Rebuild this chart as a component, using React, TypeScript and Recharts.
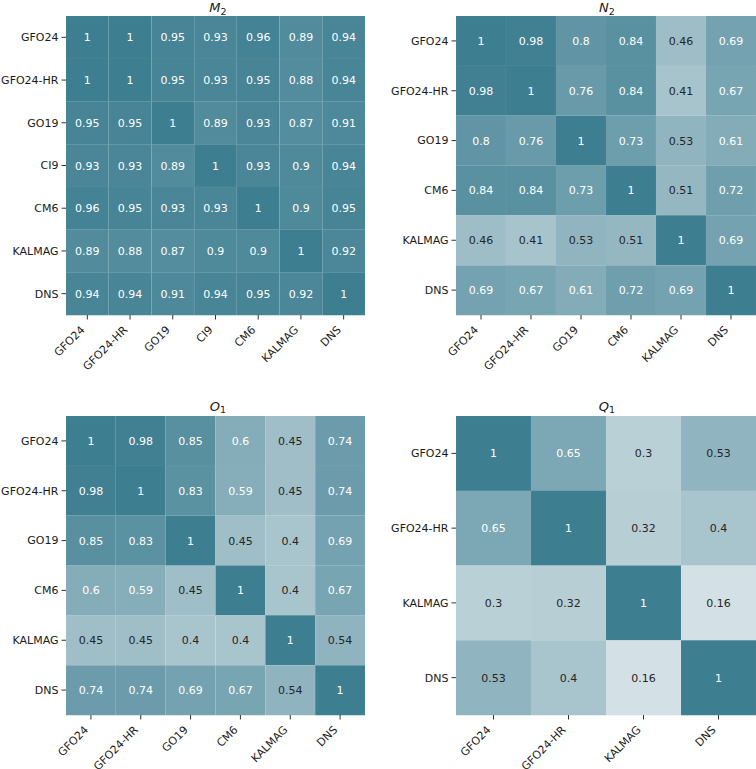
import React from 'react';
import { BarChart, Bar, XAxis, YAxis, Cell, LabelList } from 'recharts';

// ---------- data ----------
const m2Labels = ['GFO24', 'GFO24-HR', 'GO19', 'CI9', 'CM6', 'KALMAG', 'DNS'];
const m2Values = [
  [1, 1, 0.95, 0.93, 0.96, 0.89, 0.94],
  [1, 1, 0.95, 0.93, 0.95, 0.88, 0.94],
  [0.95, 0.95, 1, 0.89, 0.93, 0.87, 0.91],
  [0.93, 0.93, 0.89, 1, 0.93, 0.9, 0.94],
  [0.96, 0.95, 0.93, 0.93, 1, 0.9, 0.95],
  [0.89, 0.88, 0.87, 0.9, 0.9, 1, 0.92],
  [0.94, 0.94, 0.91, 0.94, 0.95, 0.92, 1],
];

const n2Labels = ['GFO24', 'GFO24-HR', 'GO19', 'CM6', 'KALMAG', 'DNS'];
const n2Values = [
  [1, 0.98, 0.8, 0.84, 0.46, 0.69],
  [0.98, 1, 0.76, 0.84, 0.41, 0.67],
  [0.8, 0.76, 1, 0.73, 0.53, 0.61],
  [0.84, 0.84, 0.73, 1, 0.51, 0.72],
  [0.46, 0.41, 0.53, 0.51, 1, 0.69],
  [0.69, 0.67, 0.61, 0.72, 0.69, 1],
];

const o1Labels = ['GFO24', 'GFO24-HR', 'GO19', 'CM6', 'KALMAG', 'DNS'];
const o1Values = [
  [1, 0.98, 0.85, 0.6, 0.45, 0.74],
  [0.98, 1, 0.83, 0.59, 0.45, 0.74],
  [0.85, 0.83, 1, 0.45, 0.4, 0.69],
  [0.6, 0.59, 0.45, 1, 0.4, 0.67],
  [0.45, 0.45, 0.4, 0.4, 1, 0.54],
  [0.74, 0.74, 0.69, 0.67, 0.54, 1],
];

const q1Labels = ['GFO24', 'GFO24-HR', 'KALMAG', 'DNS'];
const q1Values = [
  [1, 0.65, 0.3, 0.53],
  [0.65, 1, 0.32, 0.4],
  [0.3, 0.32, 1, 0.16],
  [0.53, 0.4, 0.16, 1],
];

// ---------- styling ----------
const FONT = "'DejaVu Sans', sans-serif";
const LIGHT = [240, 243, 245];
const DARK = [61, 126, 145];

function rgbOf(v: number) {
  return LIGHT.map((l, k) => Math.round(l + (DARK[k] - l) * v));
}
function cellColor(v: number) {
  const [r, g, b] = rgbOf(v);
  return `rgb(${r},${g},${b})`;
}
function textColor(v: number) {
  const lin = rgbOf(v).map((c) => {
    const s = c / 255;
    return s <= 0.03928 ? s / 12.92 : Math.pow((s + 0.055) / 1.055, 2.4);
  });
  const lum = 0.2126 * lin[0] + 0.7152 * lin[1] + 0.0722 * lin[2];
  return lum > 0.408 ? '#262626' : '#ffffff';
}

type PanelProps = {
  labels: string[];
  values: number[][];
  left: number;
  top: number;
  width: number;
  height: number;
  yAxisWidth: number;
  marginRight: number;
  marginTop: number;
  xAxisHeight: number;
};

function Panel({ labels, values, left, top, width, height, yAxisWidth, marginRight, marginTop, xAxisHeight }: PanelProps) {
  const n = labels.length;
  const data = labels.map((name, i) => {
    const row: any = { name };
    labels.forEach((_, j) => {
      row[`c${j}`] = 1;
      row[`v${j}`] = values[i][j];
    });
    return row;
  });
  const ticks = labels.map((_, j) => j + 0.5);

  const XTick = (props: any) => {
    const { x, y, payload } = props;
    const px = x - 2;
    const py = y + 11;
    return (
      <text
        x={px}
        y={py}
        transform={`rotate(-45 ${px} ${py})`}
        textAnchor="end"
        fontSize={11}
        fontFamily={FONT}
        fill="#1a1a1a"
      >
        {labels[Math.floor(payload.value)]}
      </text>
    );
  };

  const makeLabel = (j: number) => (props: any) => {
    const vb = props.viewBox && props.viewBox.width !== undefined ? props.viewBox : props;
    const { x, y, width: w, height: h } = vb;
    const v = values[props.index][j];
    return (
      <text
        x={x + w / 2}
        y={y + h / 2}
        dy="0.36em"
        textAnchor="middle"
        fontSize={11}
        fontFamily={FONT}
        fill={textColor(v)}
      >
        {String(v)}
      </text>
    );
  };

  return (
    <div style={{ position: 'absolute', left, top }}>
      <BarChart
        width={width}
        height={height}
        data={data}
        layout="vertical"
        barCategoryGap={0}
        barGap={0}
        margin={{ top: marginTop, right: marginRight, bottom: 0, left: 0 }}
      >
        <XAxis
          type="number"
          domain={[0, n]}
          ticks={ticks}
          interval={0}
          axisLine={false}
          tickLine={{ stroke: '#333333', strokeWidth: 1 }}
          tickSize={4.5}
          tickMargin={0}
          height={xAxisHeight}
          tick={<XTick />}
          allowDataOverflow
        />
        <YAxis
          type="category"
          dataKey="name"
          interval={0}
          axisLine={false}
          tickLine={{ stroke: '#333333', strokeWidth: 1 }}
          tickSize={4.5}
          tickMargin={3}
          width={yAxisWidth}
          tick={{ fontSize: 11, fontFamily: FONT, fill: '#1a1a1a' }}
        />
        {labels.map((_, j) => (
          <Bar key={j} dataKey={`c${j}`} stackId="s" isAnimationActive={false}>
            {data.map((_, i) => (
              <Cell
                key={i}
                fill={cellColor(values[i][j])}
                stroke="rgba(255,255,255,0.035)"
                strokeWidth={1}
              />
            ))}
            <LabelList dataKey={`v${j}`} content={makeLabel(j)} />
          </Bar>
        ))}
      </BarChart>
    </div>
  );
}

function Title({ x, y, main, sub }: { x: number; y: number; main: string; sub: string }) {
  return (
    <text x={x} y={y} textAnchor="middle" fontFamily={FONT} fontSize={13} fill="#1a1a1a">
      <tspan fontStyle="italic">{main}</tspan>
      <tspan fontSize={9.5} dy={2.5}>{sub}</tspan>
    </text>
  );
}

export default function App() {
  return (
    <div
      style={{
        position: 'absolute',
        left: 0,
        top: 0,
        width: 756,
        height: 769,
        overflow: 'hidden',
        background: '#ffffff',
      }}
    >
      <Panel labels={m2Labels} values={m2Values} left={0} top={0} width={378} height={380}
        yAxisWidth={66} marginRight={13} marginTop={16} xAxisHeight={65} />
      <Panel labels={n2Labels} values={n2Values} left={389} top={0} width={367} height={380}
        yAxisWidth={67} marginRight={0} marginTop={16} xAxisHeight={65} />
      <Panel labels={o1Labels} values={o1Values} left={0} top={400} width={378} height={369}
        yAxisWidth={66} marginRight={13} marginTop={16} xAxisHeight={54} />
      <Panel labels={q1Labels} values={q1Values} left={389} top={400} width={367} height={369}
        yAxisWidth={67} marginRight={0} marginTop={16} xAxisHeight={54} />
      <svg width={756} height={769} style={{ position: 'absolute', left: 0, top: 0, pointerEvents: 'none' }}>
        <Title x={218} y={12.2} main="M" sub="2" />
        <Title x={607} y={12.2} main="N" sub="2" />
        <Title x={218} y={410.5} main="O" sub="1" />
        <Title x={607} y={410.5} main="Q" sub="1" />
      </svg>
    </div>
  );
}
